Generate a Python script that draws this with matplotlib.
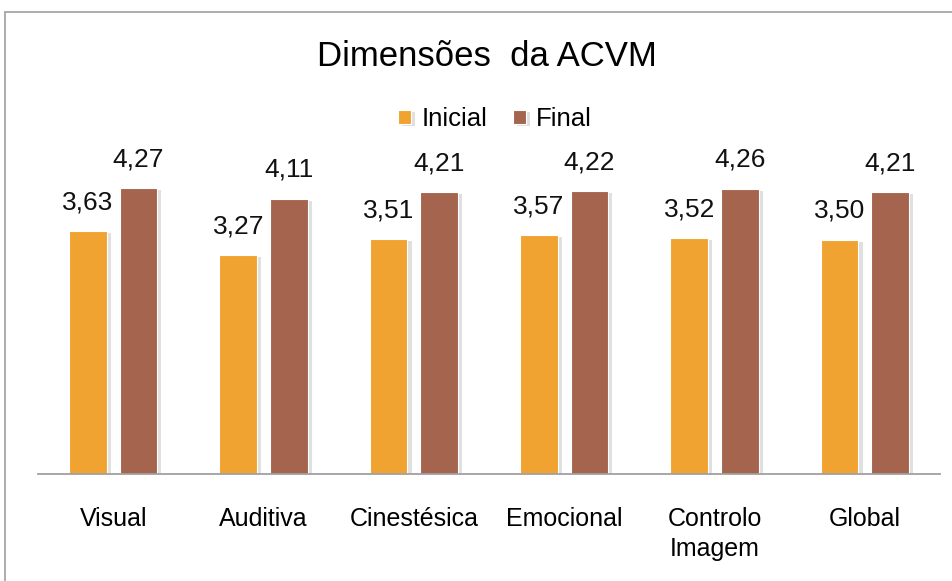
import matplotlib
matplotlib.use("Agg")
import matplotlib.pyplot as plt
import matplotlib.patheffects as pe
from matplotlib.patches import Rectangle
import numpy as np

plt.rcParams["font.family"] = ["Liberation Sans", "DejaVu Sans"]

# Données
categorias = ["Visual", "Auditiva", "Cinestésica", "Emocional", "Controlo\nImagem", "Global"]
inicial = [3.63, 3.27, 3.51, 3.57, 3.52, 3.50]
final = [4.27, 4.11, 4.21, 4.22, 4.26, 4.21]
series = ["Inicial", "Final"]

COR_INICIAL = "#F0A330"
COR_FINAL = "#A5644E"

W, H = 953, 581
fig = plt.figure(figsize=(W / 100, H / 100), dpi=100)

# cadre gris (coupé à droite et en bas)
fig.patches.append(Rectangle((5 / W, -0.05), 1.1, 1.05 - 12 / H, transform=fig.transFigure,
                             fill=False, edgecolor="#A6A6A6", linewidth=1.3))

ax = fig.add_axes([38 / W, 107 / H, 902 / W, 301.5 / H])
x = np.arange(len(categorias))
largura = 0.25
desloc = 0.168

sombra = [pe.SimplePatchShadow(offset=(3, -1.5), shadow_rgbFace="#999999", alpha=0.3), pe.Normal()]
b1 = ax.bar(x - desloc, inicial, largura, color=COR_INICIAL, edgecolor="white", linewidth=0.8,
            label=series[0], path_effects=sombra)
b2 = ax.bar(x + desloc, final, largura, color=COR_FINAL, edgecolor="white", linewidth=0.8,
            label=series[1], path_effects=sombra)

for barras, vals in ((b1, inicial), (b2, final)):
    for b, v in zip(barras, vals):
        ax.annotate(f"{v:.2f}".replace(".", ","), (b.get_x() + b.get_width() / 2, v),
                    xytext=(0, 12), textcoords="offset points", ha="center", va="bottom",
                    fontsize=19, color="#111111")

ax.set_xlim(-0.5, len(categorias) - 0.5)
ax.set_ylim(0, 4.5)
ax.set_yticks([])
ax.set_xticks(x)
ax.set_xticklabels(categorias, fontsize=18, linespacing=1.3)
ax.tick_params(axis="x", length=0, pad=24)
for s in ("top", "right", "left"):
    ax.spines[s].set_visible(False)
ax.spines["bottom"].set_color("#A0A0A0")
ax.spines["bottom"].set_linewidth(1.3)
ax.patch.set_alpha(0)

fig.text(487 / W, 1 - 56 / H, "Dimensões  da ACVM", ha="center", va="center", fontsize=25)
fig.legend(handles=[b1, b2], labels=series, loc="center", bbox_to_anchor=(495 / W, 1 - 119 / H),
           ncol=2, frameon=False, fontsize=18.5, handlelength=0.5, handleheight=0.5,
           handletextpad=0.4, columnspacing=1.0)

fig.savefig("out.png", dpi=100)
